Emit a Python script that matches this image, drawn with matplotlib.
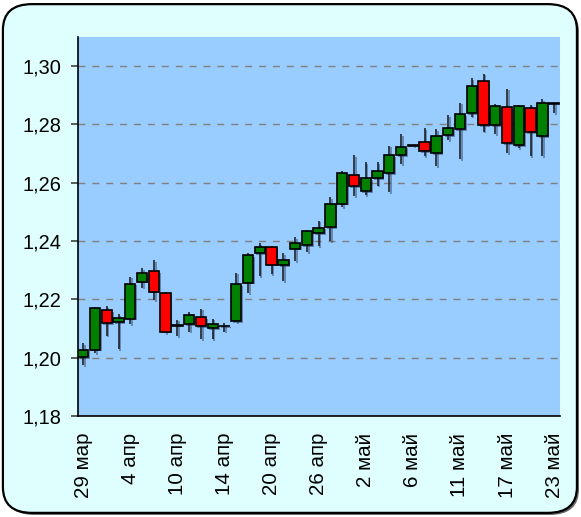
import matplotlib
matplotlib.use('Agg')  # no display in the sandbox
import matplotlib.pyplot as plt
import matplotlib.patheffects as pe
from matplotlib.patches import Rectangle, FancyBboxPatch
from matplotlib.ticker import FuncFormatter

# Daily candles (open / high / low / close)
opens = [1.2001, 1.2027, 1.2163, 1.2121, 1.2133, 1.2260, 1.2296, 1.2220, 1.2109, 1.2114,
         1.2139, 1.2102, 1.2107, 1.2124, 1.2257, 1.2359, 1.2379, 1.2316, 1.2373, 1.2385,
         1.2427, 1.2447, 1.2528, 1.2626, 1.2571, 1.2616, 1.2632, 1.2693, 1.2726, 1.2740,
         1.2700, 1.2762, 1.2783, 1.2838, 1.2949, 1.2797, 1.2859, 1.2729, 1.2855, 1.2759,
         1.2870]
highs = [1.2049, 1.2172, 1.2177, 1.2149, 1.2278, 1.2306, 1.2333, 1.2226, 1.2130, 1.2155,
         1.2168, 1.2134, 1.2118, 1.2291, 1.2359, 1.2393, 1.2381, 1.2359, 1.2414, 1.2439,
         1.2470, 1.2549, 1.2638, 1.2693, 1.2671, 1.2671, 1.2726, 1.2767, 1.2729, 1.2786,
         1.2783, 1.2832, 1.2874, 1.2959, 1.2973, 1.2870, 1.2922, 1.2867, 1.2867, 1.2887,
         1.2873]
lows = [1.1975, 1.2016, 1.2075, 1.2030, 1.2115, 1.2240, 1.2197, 1.2084, 1.2073, 1.2089,
        1.2064, 1.2064, 1.2089, 1.2121, 1.2221, 1.2279, 1.2285, 1.2262, 1.2330, 1.2361,
        1.2382, 1.2399, 1.2516, 1.2553, 1.2557, 1.2589, 1.2568, 1.2662, 1.2725, 1.2690,
        1.2656, 1.2746, 1.2681, 1.2826, 1.2774, 1.2767, 1.2700, 1.2719, 1.2691, 1.2691,
        1.2838]
closes = [1.2027, 1.2169, 1.2117, 1.2135, 1.2254, 1.2291, 1.2226, 1.2089, 1.2112, 1.2145,
          1.2107, 1.2114, 1.2109, 1.2251, 1.2351, 1.2379, 1.2319, 1.2336, 1.2393, 1.2433,
          1.2445, 1.2528, 1.2633, 1.2588, 1.2616, 1.2641, 1.2695, 1.2723, 1.2728, 1.2708,
          1.2761, 1.2787, 1.2834, 1.2930, 1.2797, 1.2862, 1.2734, 1.2861, 1.2772, 1.2872,
          1.2872]

# date labels, one every 4 candles
tick_pos = [0, 4, 8, 12, 16, 20, 24, 28, 32, 36, 40]
tick_labels = ['29 мар', '4 апр', '10 апр', '14 апр', '20 апр', '26 апр',
               '2 май', '6 май', '11 май', '17 май', '23 май']
y_ticks = [1.18, 1.20, 1.22, 1.24, 1.26, 1.28, 1.30]

plt.rcParams['font.family'] = ['Liberation Sans', 'DejaVu Sans']

fig = plt.figure(figsize=(5.81, 5.17), dpi=100)
fig.patch.set_facecolor('white')

# rounded frame behind everything
frame = FancyBboxPatch((0.005, 0.008), 0.988, 0.984,
                       boxstyle='round,pad=0,rounding_size=0.05',
                       transform=fig.transFigure, facecolor='#DFFFFF',
                       edgecolor='black', linewidth=1.6, zorder=-5)
frame.set_path_effects([pe.SimplePatchShadow(offset=(1.5, -1.5), shadow_rgbFace='black', alpha=0.6),
                        pe.Normal()])
fig.patches.append(frame)

ax = fig.add_axes([0.1337, 0.1954, 0.8302, 0.7336])
ax.set_facecolor('#99CCFF')
ax.set_zorder(1)

shadow_line = [pe.SimpleLineShadow(offset=(1.2, -1.2), shadow_color='#203050', alpha=0.55),
               pe.Normal()]
shadow_patch = [pe.SimplePatchShadow(offset=(1.2, -1.2), shadow_rgbFace='#203050', alpha=0.45),
                pe.Normal()]

body_w = 0.88
for i in range(len(opens)):
    o, h, l, c = opens[i], highs[i], lows[i], closes[i]
    # wick
    ax.plot([i, i], [l, h], color='#151515', linewidth=1.1, zorder=2,
            solid_capstyle='butt', path_effects=shadow_line)
    # body
    color = '#008000' if c >= o else '#FF0000'
    bottom = min(o, c)
    height = max(abs(c - o), 0.00005)
    rect = Rectangle((i - body_w / 2, bottom), body_w, height,
                     facecolor=color, edgecolor='black', linewidth=1.2, zorder=3)
    rect.set_path_effects(shadow_patch)
    ax.add_patch(rect)

ax.set_xlim(-0.47, 40.5)
ax.set_ylim(1.18, 1.31)

# dashed grid
for yv in y_ticks[1:]:
    ax.axhline(yv, color='#808080', linestyle=(0, (5, 5)), linewidth=1.0, zorder=1)

ax.set_yticks(y_ticks)
ax.yaxis.set_major_formatter(FuncFormatter(lambda v, p: f'{v:.2f}'.replace('.', ',')))
ax.tick_params(axis='y', length=5, width=1.2, color='#404040', pad=7, labelsize=14.4)

ax.set_xticks(tick_pos)
ax.set_xticklabels(tick_labels, rotation=90, fontsize=14.8)
ax.tick_params(axis='x', length=0, pad=12)

for side in ['top', 'right']:
    ax.spines[side].set_visible(False)
ax.spines['left'].set_linewidth(1.2)
ax.spines['bottom'].set_linewidth(1.2)

fig.savefig('out.png', dpi=100, facecolor=fig.get_facecolor())
